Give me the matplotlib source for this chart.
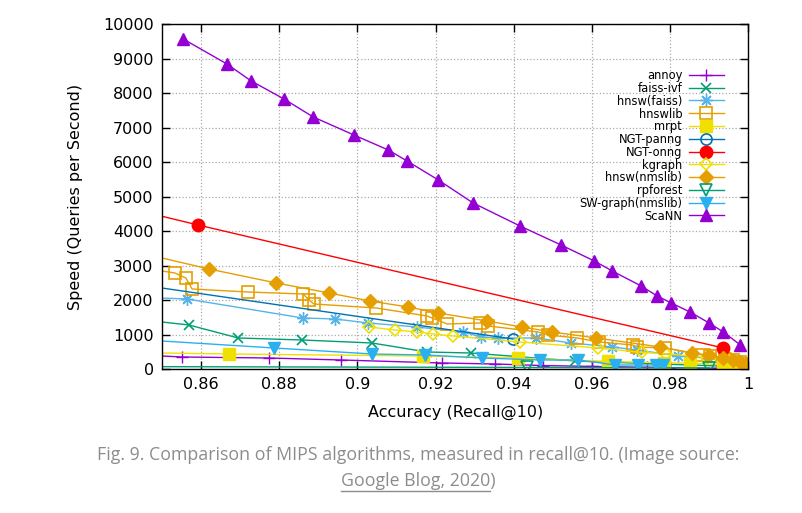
import numpy as np
import matplotlib.pyplot as plt
from matplotlib.lines import Line2D

# recall@10 vs queries per second
annoy_x = [0.84, 0.8551, 0.8774, 0.8958, 0.9217, 0.9352, 0.9475, 0.9600, 0.9740, 0.9800, 0.9860, 0.9920]
annoy_y = [434, 348, 319, 261, 174, 145, 100, 75, 50, 40, 30, 20]

faiss_ivf_x = [0.84, 0.8569, 0.8695, 0.8858, 0.9037, 0.9178, 0.9290, 0.9557, 0.9997]
faiss_ivf_y = [1487, 1276, 899, 841, 754, 493, 464, 232, 58]

hnsw_faiss_x = [0.84, 0.8564, 0.8860, 0.8943, 0.9027, 0.9153, 0.9270, 0.9317, 0.9360, 0.9457, 0.9547,
                0.9652, 0.9716, 0.9821, 0.9895, 0.9950]
hnsw_faiss_y = [2100, 2029, 1479, 1450, 1334, 1217, 1073, 928, 899, 899, 754,
                638, 551, 377, 319, 200]

hnswlib_x = [0.84, 0.8533, 0.8561, 0.8577, 0.8720, 0.8861, 0.8876, 0.8889, 0.9048, 0.9178, 0.9191,
             0.9230, 0.9314, 0.9335, 0.9462, 0.9488, 0.9562, 0.9618, 0.9705, 0.9716, 0.9788,
             0.9882, 0.9903, 0.9940, 0.9960, 0.9980, 0.9993]
hnswlib_y = [3017, 2783, 2638, 2319, 2232, 2174, 2000, 1884, 1769, 1537, 1479,
             1305, 1334, 1247, 1073, 986, 899, 783, 696, 638, 609,
             406, 377, 300, 260, 200, 140]

mrpt_x = [0.84, 0.8672, 0.9168, 0.9411, 0.9640, 0.9784, 0.9850, 0.9935, 0.9955]
mrpt_y = [481, 435, 377, 319, 220, 180, 170, 120, 80]

ngt_panng_x = [0.84, 0.9398]
ngt_panng_y = [2512, 870]

ngt_onng_x = [0.84, 0.8592, 0.9936]
ngt_onng_y = [4700, 4175, 609]

kgraph_x = [0.9030, 0.9096, 0.9153, 0.9194, 0.9245, 0.9416, 0.9616, 0.9729, 0.9790, 0.9895, 0.9950, 0.9980]
kgraph_y = [1217, 1131, 1073, 1015, 957, 783, 609, 480, 440, 330, 230, 150]

hnsw_nmslib_x = [0.84, 0.8620, 0.8792, 0.8928, 0.9032, 0.9130, 0.9207, 0.9332, 0.9421, 0.9498, 0.9611,
                 0.9775, 0.9857, 0.9900, 0.9935, 0.9960, 0.9980, 0.9993]
hnsw_nmslib_y = [3484, 2899, 2494, 2203, 1971, 1797, 1623, 1391, 1217, 1073, 899,
                 638, 464, 400, 330, 270, 200, 130]

rpforest_x = [0.84, 0.9434, 0.9900]
rpforest_y = [70, 45, 30]

sw_graph_x = [0.84, 0.8787, 0.9037, 0.9173, 0.9319, 0.9468, 0.9565, 0.9660, 0.9719, 0.9765, 0.9783]
sw_graph_y = [882, 609, 435, 406, 319, 261, 261, 116, 116, 116, 116]

scann_x = [0.8554, 0.8666, 0.8728, 0.8812, 0.8887, 0.8991, 0.9079, 0.9127, 0.9207, 0.9296, 0.9416,
           0.9521, 0.9606, 0.9652, 0.9726, 0.9767, 0.9803, 0.9851, 0.9900, 0.9936, 0.9980]
scann_y = [9567, 8842, 8350, 7827, 7305, 6783, 6348, 6030, 5479, 4812, 4145,
           3595, 3131, 2841, 2406, 2116, 1913, 1652, 1333, 1073, 696]

violet = '#9400d3'
green = '#009e73'
lblue = '#56b4e9'
orange = '#e69f00'
yellow = '#f0e000'
dblue = '#0072b2'
red = '#ff0000'

fig = plt.figure(figsize=(8.02, 5.13), dpi=100)
ax = fig.add_axes([0.202, 0.2807, 0.731, 0.6725])

ms = 7
ax.plot(annoy_x, annoy_y, color=violet, lw=1, marker='+', ms=9, mew=1, label='annoy')
ax.plot(faiss_ivf_x, faiss_ivf_y, color=green, lw=1, marker='x', ms=7, mew=1.2, label='faiss-ivf')
ax.plot(hnsw_faiss_x, hnsw_faiss_y, color=lblue, lw=1, marker=(8, 2, 0), ms=9, mew=1, label='hnsw(faiss)')
ax.plot(hnswlib_x, hnswlib_y, color=orange, lw=1, marker='s', ms=ms + 1, mfc='none', mew=1.2, label='hnswlib')
ax.plot(mrpt_x, mrpt_y, color=yellow, lw=1, marker='s', ms=ms + 1, label='mrpt')
ax.plot(ngt_panng_x, ngt_panng_y, color=dblue, lw=1, marker='o', ms=ms + 1, mfc='none', mew=1.2, label='NGT-panng')
ax.plot(ngt_onng_x, ngt_onng_y, color=red, lw=1, marker='o', ms=ms + 2, label='NGT-onng')
ax.plot(kgraph_x, kgraph_y, color=yellow, lw=1, marker='D', ms=6, mfc='none', mew=1.2, label='kgraph')
ax.plot(hnsw_nmslib_x, hnsw_nmslib_y, color=orange, lw=1, marker='D', ms=ms, label='hnsw(nmslib)')
ax.plot(rpforest_x, rpforest_y, color=green, lw=1, marker='v', ms=ms + 1, mfc='none', mew=1.2, label='rpforest')
ax.plot(sw_graph_x, sw_graph_y, color='#2ab0f0', lw=1, marker='v', ms=ms + 1, label='SW-graph(nmslib)')
ax.plot(scann_x, scann_y, color=violet, lw=1, marker='^', ms=ms + 1, label='ScaNN')

ax.set_xlim(0.85, 1.0)
ax.set_ylim(0, 10000)
ax.set_xticks([0.86, 0.88, 0.9, 0.92, 0.94, 0.96, 0.98, 1.0])
ax.set_xticklabels(['0.86', '0.88', '0.9', '0.92', '0.94', '0.96', '0.98', '1'])
ax.set_yticks(np.arange(0, 10001, 1000))
ax.tick_params(direction='in', top=True, right=True, length=6, width=1, labelsize=11.5, pad=6)
ax.grid(True, color='#aaaaaa', linestyle=':', linewidth=0.9)
for s in ax.spines.values():
    s.set_linewidth(1)

ax.set_xlabel('Accuracy (Recall@10)', fontsize=11.5)
ax.set_ylabel('Speed (Queries per Second)', fontsize=11.5)
ax.xaxis.set_label_coords(0.5, -0.105)
ax.yaxis.set_label_coords(-0.135, 0.5)

leg = ax.legend(loc='upper right', bbox_to_anchor=(0.966, 0.882), fontsize=8.3, frameon=False,
                markerfirst=False, numpoints=1, handlelength=3.0, handletextpad=0.6,
                labelspacing=-0.02, borderaxespad=0, handleheight=0.9)

cap_color = '#8c8c8c'
cap_fs = 12.8
fig.text(0.521, 0.113, 'Fig. 9. Comparison of MIPS algorithms, measured in recall@10. (Image source:',
         ha='center', va='center', fontsize=cap_fs, color=cap_color, family='Open Sans')
t2 = fig.text(0.521, 0.062, 'Google Blog, 2020)', ha='center', va='center', fontsize=cap_fs,
              color=cap_color, family='Open Sans')
t3 = fig.text(0.0, 0.0, 'Google Blog, 2020', fontsize=cap_fs, family='Open Sans')

fig.canvas.draw()
r = fig.canvas.get_renderer()
bb = t2.get_window_extent(r)
w_link = t3.get_window_extent(r).width
t3.remove()
x0 = bb.x0 / fig.bbox.width
x1 = (bb.x0 + w_link) / fig.bbox.width
yl = (bb.y0 - 1) / fig.bbox.height
fig.add_artist(Line2D([x0, x1], [yl, yl], color=cap_color, lw=1, transform=fig.transFigure))

fig.savefig('out.png', dpi=100)
